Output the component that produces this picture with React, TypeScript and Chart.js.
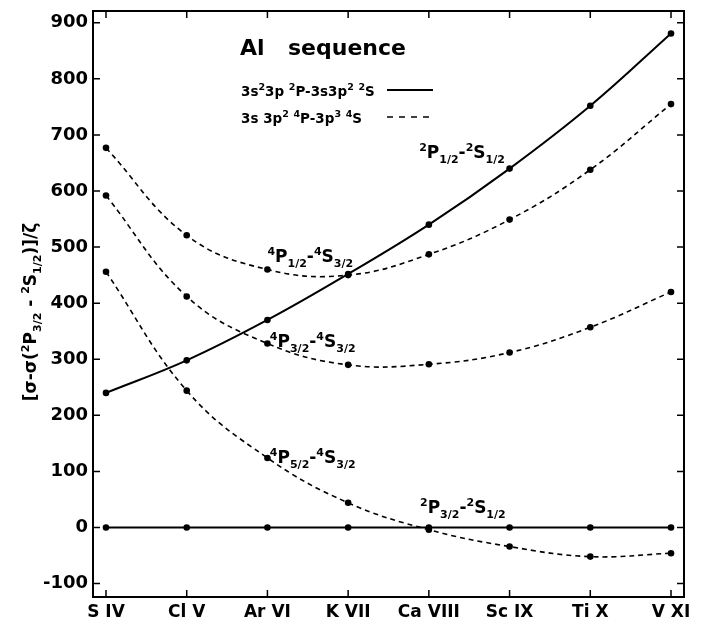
import React, { useEffect, useRef } from "react";
import { Chart, registerables } from "chart.js";
Chart.register(...registerables);

// ---- data ----
const ions = ["S IV", "Cl V", "Ar VI", "K VII", "Ca VIII", "Sc IX", "Ti X", "V XI"];
const p12 = [240, 298, 370, 452, 540, 640, 752, 881]; // 2P1/2 - 2S1/2 (solid)
const p32 = [0, 0, 0, 0, 0, 0, 0, 0]; // 2P3/2 - 2S1/2 reference (solid)
const q12 = [677, 521, 460, 450, 487, 549, 638, 755]; // 4P1/2 - 4S3/2 (dashed)
const q32 = [592, 412, 328, 290, 291, 312, 357, 420]; // 4P3/2 - 4S3/2 (dashed)
const q52 = [456, 244, 124, 44, -4, -34, -52, -46]; // 4P5/2 - 4S3/2 (dashed)
const yTickValues = [-100, 0, 100, 200, 300, 400, 500, 600, 700, 800, 900];

const FAMILY = '"DejaVu Sans", "Liberation Sans", sans-serif';

type Seg = [string, "n" | "sup" | "sub"];

function segFont(k: string, base: number, small: number) {
  return `bold ${k === "n" ? base : small}px ${FAMILY}`;
}
function measureRich(ctx: CanvasRenderingContext2D, segs: Seg[], base: number, small: number) {
  let w = 0;
  for (const [t, k] of segs) {
    ctx.font = segFont(k, base, small);
    w += ctx.measureText(t).width;
  }
  return w;
}
function drawRich(ctx: CanvasRenderingContext2D, segs: Seg[], x: number, y: number, base: number, small: number) {
  let cx = x;
  for (const [t, k] of segs) {
    ctx.font = segFont(k, base, small);
    const dy = k === "sup" ? -base * 0.42 : k === "sub" ? base * 0.3 : 0;
    ctx.fillText(t, cx, y + dy);
    cx += ctx.measureText(t).width;
  }
}

const curveLabels: { segs: Seg[]; x: number; y: number }[] = [
  { segs: [["2", "sup"], ["P", "n"], ["1/2", "sub"], ["-", "n"], ["2", "sup"], ["S", "n"], ["1/2", "sub"]], x: 3.88, y: 659 },
  { segs: [["4", "sup"], ["P", "n"], ["1/2", "sub"], ["-", "n"], ["4", "sup"], ["S", "n"], ["3/2", "sub"]], x: 2.0, y: 474 },
  { segs: [["4", "sup"], ["P", "n"], ["3/2", "sub"], ["-", "n"], ["4", "sup"], ["S", "n"], ["3/2", "sub"]], x: 2.03, y: 322 },
  { segs: [["4", "sup"], ["P", "n"], ["5/2", "sub"], ["-", "n"], ["4", "sup"], ["S", "n"], ["3/2", "sub"]], x: 2.03, y: 115 },
  { segs: [["2", "sup"], ["P", "n"], ["3/2", "sub"], ["-", "n"], ["2", "sup"], ["S", "n"], ["1/2", "sub"]], x: 3.89, y: 26 },
];

const legend1: Seg[] = [["3s", "n"], ["2", "sup"], ["3p ", "n"], ["2", "sup"], ["P-3s3p", "n"], ["2", "sup"], [" ", "n"], ["2", "sup"], ["S", "n"]];
const legend2: Seg[] = [["3s 3p", "n"], ["2", "sup"], [" ", "n"], ["4", "sup"], ["P-3p", "n"], ["3", "sup"], [" ", "n"], ["4", "sup"], ["S", "n"]];
const yTitle: Seg[] = [["[σ-σ(", "n"], ["2", "sup"], ["P", "n"], ["3/2", "sub"], [" - ", "n"], ["2", "sup"], ["S", "n"], ["1/2", "sub"], [")]/ζ", "n"]];

const framePlugin = {
  id: "frame",
  afterDraw(chart: any) {
    const { ctx, chartArea: a, scales } = chart;
    const xs = scales.x, ys = scales.y;
    ctx.save();
    ctx.strokeStyle = "#000";
    ctx.fillStyle = "#000";
    // frame
    ctx.lineWidth = 2;
    ctx.strokeRect(a.left, a.top, a.right - a.left, a.bottom - a.top);
    // inward ticks
    ctx.lineWidth = 1.5;
    ctx.beginPath();
    for (const v of yTickValues) {
      const py = ys.getPixelForValue(v);
      ctx.moveTo(a.left, py); ctx.lineTo(a.left + 7, py);
      ctx.moveTo(a.right, py); ctx.lineTo(a.right - 7, py);
    }
    ions.forEach((_, i) => {
      const px = xs.getPixelForValue(i);
      ctx.moveTo(px, a.top); ctx.lineTo(px, a.top + 7);
      ctx.moveTo(px, a.bottom); ctx.lineTo(px, a.bottom - 7);
    });
    ctx.stroke();

    ctx.textAlign = "left";
    ctx.textBaseline = "alphabetic";
    // title
    ctx.font = `bold 22px ${FAMILY}`;
    ctx.fillText("Al", 240, 55);
    ctx.fillText("sequence", 288, 55);
    // legend
    drawRich(ctx, legend1, 241, 96, 13.5, 9.5);
    drawRich(ctx, legend2, 241, 123, 13.5, 9.5);
    ctx.lineWidth = 2;
    ctx.setLineDash([]);
    ctx.beginPath(); ctx.moveTo(387, 90); ctx.lineTo(433, 90); ctx.stroke();
    ctx.lineWidth = 1.6;
    ctx.setLineDash([6, 6]);
    ctx.beginPath(); ctx.moveTo(387, 117); ctx.lineTo(433, 117); ctx.stroke();
    ctx.setLineDash([]);

    // curve labels
    for (const l of curveLabels) {
      drawRich(ctx, l.segs, xs.getPixelForValue(l.x), ys.getPixelForValue(l.y), 17, 11);
    }

    // y axis title
    ctx.translate(30, 312);
    ctx.rotate(-Math.PI / 2);
    const w = measureRich(ctx, yTitle, 17, 11);
    drawRich(ctx, yTitle, -w / 2, 6, 17, 11);
    ctx.restore();
  },
};

function ds(vals: number[], dashed: boolean) {
  return {
    data: vals.map((v, i) => ({ x: i, y: v })),
    borderColor: "#000",
    backgroundColor: "#000",
    borderWidth: dashed ? 1.6 : 2,
    borderDash: dashed ? [5, 4] : [],
    tension: 0.4,
    pointRadius: 3.3,
    pointBackgroundColor: "#000",
    pointBorderWidth: 0,
    fill: false,
  };
}

export default function App() {
  const ref = useRef<HTMLCanvasElement>(null);
  useEffect(() => {
    if (!ref.current) return;
    const tickFont = { family: FAMILY, size: 17, weight: "bold" as const };
    const chart = new Chart(ref.current, {
      type: "line",
      data: {
        datasets: [ds(p12, false), ds(p32, false), ds(q12, true), ds(q32, true), ds(q52, true)] as any,
      },
      options: {
        responsive: false,
        animation: false,
        layout: { padding: { left: 0, right: 18, top: 11, bottom: 0 } },
        plugins: { legend: { display: false }, tooltip: { enabled: false } },
        scales: {
          x: {
            type: "linear",
            min: -0.161,
            max: 7.161,
            afterBuildTicks: (s: any) => {
              s.ticks = ions.map((_, i) => ({ value: i }));
            },
            ticks: {
              callback: (v: any) => ions[Number(v)] ?? "",
              font: tickFont,
              color: "#000",
              padding: 5,
              maxRotation: 0,
              autoSkip: false,
            },
            grid: { display: false, drawTicks: false },
            border: { display: false },
            afterFit: (s: any) => {
              s.height = 25;
              s.paddingLeft = 0;
              s.paddingRight = 0;
            },
          },
          y: {
            type: "linear",
            min: -124,
            max: 921,
            afterBuildTicks: (s: any) => {
              s.ticks = yTickValues.map((v) => ({ value: v }));
            },
            ticks: {
              font: { family: FAMILY, size: 18, weight: "bold" as const },
              color: "#000",
              padding: 5,
              autoSkip: false,
            },
            grid: { display: false, drawTicks: false },
            border: { display: false },
            afterFit: (s: any) => {
              s.width = 93;
              s.paddingTop = 0;
              s.paddingBottom = 0;
            },
          },
        },
      } as any,
      plugins: [framePlugin],
    });
    return () => chart.destroy();
  }, []);
  return (
    <div style={{ position: "fixed", left: 0, top: 0, width: 702, height: 622, background: "#fff" }}>
      <canvas ref={ref} width={702} height={622} style={{ display: "block" }} />
    </div>
  );
}
